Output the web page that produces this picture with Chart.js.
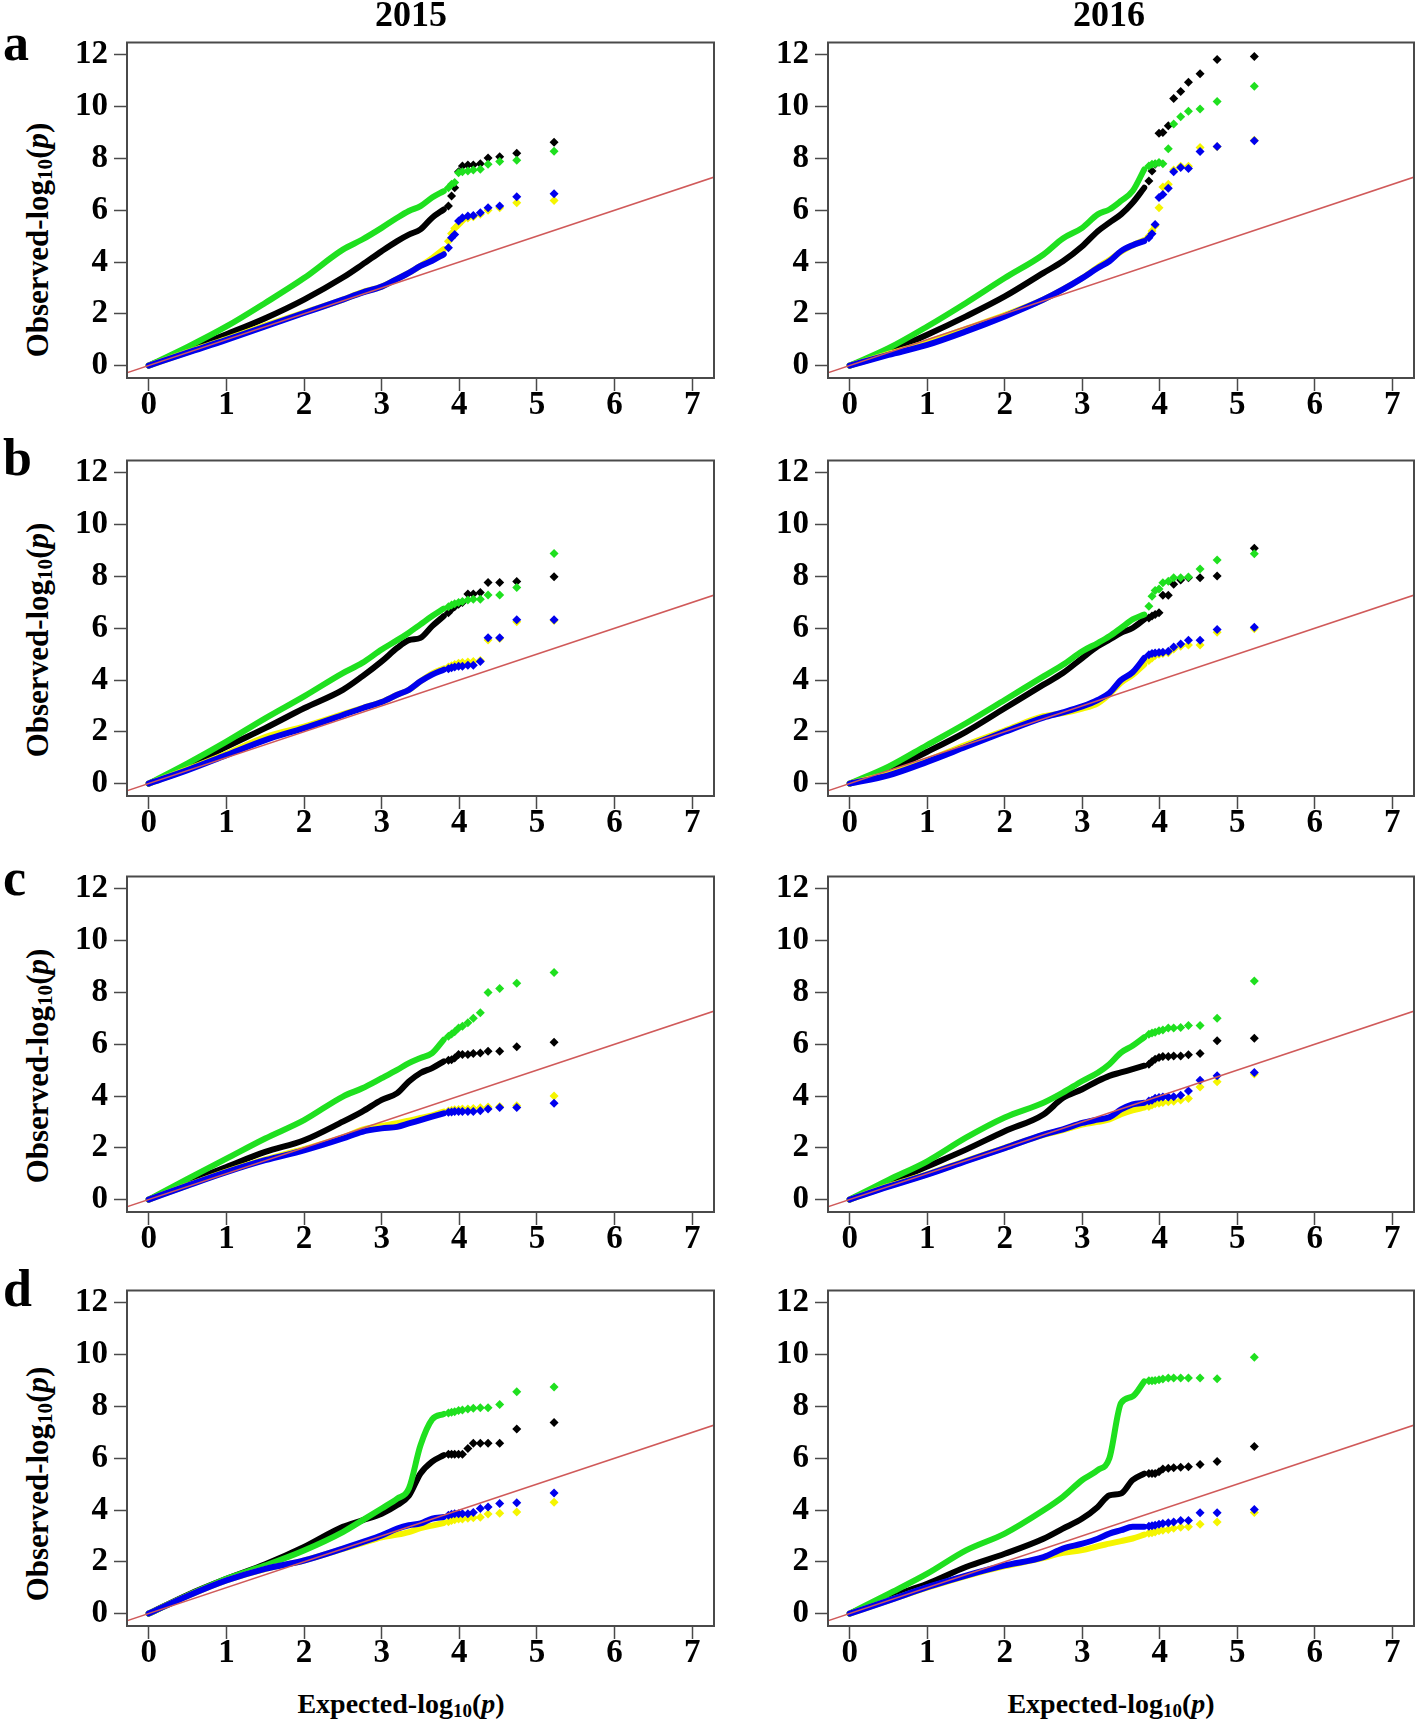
<!DOCTYPE html>
<html lang="en">
<head>
<meta charset="UTF-8">
<title>QQ plots 2015 / 2016</title>
<script src="https://cdn.jsdelivr.net/npm/chart.js"></script>
<style>
  body { margin: 0; background: #fff; }
  #page {
    position: relative; width: 1418px; height: 1722px; overflow: hidden;
    font-family: "Liberation Serif", "Times New Roman", serif; font-weight: bold; color: #000;
  }
  #page canvas, .txt { position: absolute; }
  .year { font-size: 36px; line-height: 1; transform: translateX(-50%); }
  .letter { font-size: 52px; line-height: 1; }
  .ylab { font-size: 31px; line-height: 1; white-space: nowrap; transform: translate(-50%, -50%) rotate(-90deg); }
  .xlab { font-size: 28px; line-height: 1; white-space: nowrap; transform: translateX(-50%); }
  .txt sub { font-size: 0.68em; vertical-align: -0.22em; line-height: 0; }
</style>
</head>
<body>
<div id="page"></div>

<script>
// expected -log10(p): knots of the dense part and the separate top points
const knotX = [0, 0.5, 1, 1.5, 2, 2.5, 2.75, 3, 3.2, 3.35, 3.5, 3.65, 3.8];
const tailX = [3.86, 3.90, 3.94, 3.99, 4.04, 4.11, 4.18, 4.27, 4.37, 4.52, 4.74, 5.22];
const xTicks = [0, 1, 2, 3, 4, 5, 6, 7];
const yTicks = [0, 2, 4, 6, 8, 10, 12];
const refLine = [-1, 8]; // y = x
const years = ['2015', '2016'];
const rowLetters = ['a', 'b', 'c', 'd'];

// a - 2015
const a15Green = [0, 0.72, 1.51, 2.42, 3.38, 4.48, 4.87, 5.32, 5.71, 5.97, 6.16, 6.49, 6.74];
const a15GreenTail = [6.87, 7.0, 7.07, 7.45, 7.49, 7.52, 7.55, 7.58, 7.78, 7.88, 7.93, 8.28];
const a15Black = [0, 0.61, 1.21, 1.83, 2.55, 3.4, 3.9, 4.42, 4.81, 5.06, 5.26, 5.71, 6.03];
const a15BlackTail = [6.16, 6.55, 6.87, 7.49, 7.71, 7.75, 7.75, 7.8, 8.02, 8.07, 8.2, 8.63];
const a15Yellow = [0, 0.52, 1.02, 1.55, 2.05, 2.55, 2.84, 3.05, 3.35, 3.58, 3.85, 4.15, 4.5];
const a15YellowTail = [4.8, 5.1, 5.3, 5.45, 5.6, 5.7, 5.75, 5.85, 6.0, 6.1, 6.29, 6.38];
const a15Blue = [0, 0.5, 0.99, 1.51, 2.03, 2.55, 2.82, 3.05, 3.35, 3.58, 3.85, 4.05, 4.3];
const a15BlueTail = [4.55, 4.94, 5.06, 5.58, 5.71, 5.78, 5.8, 5.9, 6.1, 6.16, 6.52, 6.64];

// a - 2016
const a16Green = [0, 0.67, 1.51, 2.42, 3.38, 4.29, 4.91, 5.32, 5.84, 6.03, 6.36, 6.74, 7.58];
const a16GreenTail = [7.71, 7.78, 7.8, 7.84, 7.8, 8.38, 9.33, 9.61, 9.82, 9.91, 10.2, 10.79];
const a16Black = [0, 0.54, 1.19, 1.9, 2.67, 3.58, 4.03, 4.61, 5.19, 5.52, 5.84, 6.29, 6.87];
const a16BlackTail = [7.13, 7.52, 7.78, 8.97, 9.0, 9.26, 10.32, 10.59, 10.94, 11.27, 11.82, 11.94];
const a16Yellow = [0, 0.45, 0.9, 1.42, 1.95, 2.55, 2.94, 3.38, 3.8, 4.08, 4.4, 4.65, 4.85];
const a16YellowTail = [5.0, 5.2, 5.4, 6.1, 6.9, 7.0, 7.55, 7.7, 7.7, 8.42, 8.45, 8.7];
const a16Blue = [0, 0.41, 0.8, 1.32, 1.9, 2.55, 2.94, 3.38, 3.77, 4.03, 4.42, 4.65, 4.81];
const a16BlueTail = [4.94, 5.09, 5.45, 6.49, 6.61, 6.85, 7.49, 7.65, 7.61, 8.27, 8.46, 8.68];

// b - 2015
const b15Green = [0, 0.78, 1.62, 2.52, 3.37, 4.27, 4.66, 5.18, 5.54, 5.83, 6.15, 6.47, 6.76];
const b15GreenTail = [6.83, 6.9, 6.95, 6.99, 7.03, 7.09, 7.12, 7.12, 7.28, 7.28, 7.57, 8.89];
const b15Black = [0, 0.65, 1.42, 2.14, 2.91, 3.62, 4.14, 4.72, 5.24, 5.54, 5.63, 6.08, 6.47];
const b15BlackTail = [6.6, 6.73, 6.83, 6.93, 6.99, 7.32, 7.32, 7.38, 7.77, 7.77, 7.81, 7.99];
const b15Yellow = [0, 0.55, 1.15, 1.8, 2.2, 2.68, 2.92, 3.15, 3.43, 3.62, 3.95, 4.25, 4.45];
const b15YellowTail = [4.5, 4.55, 4.6, 4.65, 4.68, 4.7, 4.72, 4.75, 5.55, 5.6, 6.25, 6.3];
const b15Blue = [0, 0.52, 1.1, 1.68, 2.14, 2.65, 2.91, 3.15, 3.43, 3.62, 3.95, 4.21, 4.4];
const b15BlueTail = [4.44, 4.47, 4.5, 4.53, 4.53, 4.57, 4.57, 4.72, 5.63, 5.63, 6.33, 6.33];

// b - 2016
const b16Green = [0, 0.65, 1.49, 2.33, 3.23, 4.14, 4.59, 5.11, 5.43, 5.69, 6.01, 6.34, 6.53];
const b16GreenTail = [6.85, 7.24, 7.46, 7.52, 7.76, 7.82, 7.95, 7.95, 7.98, 8.29, 8.64, 8.88];
const b16Black = [0, 0.52, 1.23, 2.0, 2.91, 3.82, 4.27, 4.85, 5.3, 5.56, 5.82, 6.01, 6.34];
const b16BlackTail = [6.4, 6.47, 6.53, 6.6, 7.27, 7.27, 7.7, 7.86, 7.95, 7.95, 8.02, 9.09];
const b16Yellow = [0, 0.38, 0.9, 1.5, 2.05, 2.6, 2.72, 2.9, 3.1, 3.45, 3.9, 4.2, 4.6];
const b16YellowTail = [4.75, 4.85, 4.95, 5.0, 5.02, 5.05, 5.2, 5.3, 5.35, 5.35, 5.85, 5.98];
const b16Blue = [0, 0.32, 0.84, 1.42, 2.0, 2.55, 2.75, 2.98, 3.23, 3.5, 4.0, 4.3, 4.85];
const b16BlueTail = [4.98, 5.02, 5.04, 5.06, 5.07, 5.11, 5.28, 5.39, 5.54, 5.54, 5.95, 6.04];

// c - 2015
const c15Green = [0, 0.8, 1.58, 2.36, 3.07, 3.98, 4.3, 4.69, 5.01, 5.27, 5.47, 5.66, 6.18];
const c15GreenTail = [6.31, 6.4, 6.48, 6.63, 6.7, 6.83, 7.0, 7.22, 8.0, 8.15, 8.36, 8.77];
const c15Black = [0, 0.67, 1.26, 1.84, 2.29, 3.01, 3.4, 3.85, 4.11, 4.56, 4.89, 5.08, 5.34];
const c15BlackTail = [5.38, 5.4, 5.47, 5.6, 5.6, 5.6, 5.64, 5.66, 5.73, 5.73, 5.9, 6.08];
const c15Yellow = [0, 0.55, 1.08, 1.55, 1.95, 2.4, 2.7, 2.85, 2.95, 3.05, 3.15, 3.25, 3.4];
const c15YellowTail = [3.42, 3.45, 3.47, 3.48, 3.5, 3.5, 3.52, 3.55, 3.58, 3.6, 3.62, 4.0];
const c15Blue = [0, 0.54, 1.06, 1.52, 1.9, 2.36, 2.62, 2.75, 2.81, 2.94, 3.07, 3.2, 3.33];
const c15BlueTail = [3.37, 3.38, 3.4, 3.4, 3.4, 3.4, 3.4, 3.43, 3.5, 3.56, 3.56, 3.72];

// c - 2016
const c16Green = [0, 0.76, 1.48, 2.39, 3.17, 3.74, 4.13, 4.58, 4.9, 5.23, 5.68, 5.94, 6.27];
const c16GreenTail = [6.39, 6.43, 6.46, 6.52, 6.55, 6.63, 6.63, 6.65, 6.72, 6.72, 7.0, 8.44];
const c16Black = [0, 0.63, 1.28, 1.93, 2.64, 3.29, 3.92, 4.26, 4.58, 4.78, 4.91, 5.04, 5.17];
const c16BlackTail = [5.23, 5.33, 5.42, 5.49, 5.53, 5.53, 5.55, 5.55, 5.59, 5.64, 6.14, 6.23];
const c16Yellow = [0, 0.52, 0.98, 1.5, 2.0, 2.5, 2.68, 2.9, 3.0, 3.1, 3.3, 3.45, 3.55];
const c16YellowTail = [3.6, 3.65, 3.7, 3.72, 3.75, 3.78, 3.8, 3.85, 3.9, 4.35, 4.55, 4.85];
const c16Blue = [0, 0.5, 0.96, 1.48, 1.99, 2.51, 2.71, 2.96, 3.09, 3.18, 3.48, 3.68, 3.74];
const c16BlueTail = [3.81, 3.84, 3.91, 3.94, 3.96, 3.96, 3.97, 4.03, 4.19, 4.61, 4.78, 4.91];

// d - 2015
const d15Green = [0, 0.7, 1.34, 1.86, 2.44, 3.15, 3.6, 4.06, 4.44, 4.83, 6.5, 7.5, 7.71];
const d15GreenTail = [7.75, 7.78, 7.8, 7.84, 7.86, 7.9, 7.93, 7.95, 7.95, 8.08, 8.57, 8.75];
const d15Black = [0, 0.72, 1.34, 1.9, 2.57, 3.35, 3.6, 3.86, 4.19, 4.55, 5.41, 5.87, 6.12];
const d15BlackTail = [6.15, 6.15, 6.15, 6.15, 6.15, 6.38, 6.58, 6.58, 6.58, 6.58, 7.13, 7.38];
const d15Yellow = [0, 0.68, 1.28, 1.72, 2.05, 2.5, 2.72, 2.95, 3.05, 3.15, 3.3, 3.4, 3.5];
const d15YellowTail = [3.55, 3.6, 3.62, 3.65, 3.65, 3.68, 3.7, 3.72, 3.85, 3.88, 3.92, 4.3];
const d15Blue = [0, 0.68, 1.28, 1.73, 2.05, 2.51, 2.76, 3.02, 3.28, 3.41, 3.48, 3.67, 3.73];
const d15BlueTail = [3.8, 3.84, 3.86, 3.86, 3.86, 3.86, 3.9, 4.06, 4.12, 4.25, 4.28, 4.66];

// d - 2016
const d16Green = [0, 0.76, 1.54, 2.44, 3.09, 3.99, 4.51, 5.16, 5.54, 6.0, 8.13, 8.39, 8.97];
const d16GreenTail = [8.99, 8.99, 9.0, 9.03, 9.06, 9.1, 9.1, 9.1, 9.1, 9.1, 9.07, 9.9];
const d16Black = [0, 0.63, 1.15, 1.8, 2.31, 2.89, 3.28, 3.67, 4.12, 4.57, 4.64, 5.16, 5.41];
const d16BlackTail = [5.41, 5.41, 5.41, 5.48, 5.58, 5.61, 5.63, 5.65, 5.67, 5.76, 5.87, 6.45];
const d16Yellow = [0, 0.5, 1.0, 1.45, 1.83, 2.15, 2.35, 2.45, 2.6, 2.7, 2.8, 2.9, 3.05];
const d16YellowTail = [3.1, 3.12, 3.15, 3.2, 3.22, 3.25, 3.3, 3.33, 3.35, 3.45, 3.54, 3.9];
const d16Blue = [0, 0.5, 1.02, 1.47, 1.86, 2.18, 2.51, 2.7, 2.89, 3.09, 3.22, 3.35, 3.35];
const d16BlueTail = [3.37, 3.39, 3.41, 3.45, 3.48, 3.51, 3.54, 3.6, 3.6, 3.89, 3.89, 4.02];

// which arrays go in which panel: [green, black, yellow, blue], each [dense, tail]
const panels = [
  [0, 0, [[a15Green, a15GreenTail], [a15Black, a15BlackTail], [a15Yellow, a15YellowTail], [a15Blue, a15BlueTail]]],
  [0, 1, [[a16Green, a16GreenTail], [a16Black, a16BlackTail], [a16Yellow, a16YellowTail], [a16Blue, a16BlueTail]]],
  [1, 0, [[b15Green, b15GreenTail], [b15Black, b15BlackTail], [b15Yellow, b15YellowTail], [b15Blue, b15BlueTail]]],
  [1, 1, [[b16Green, b16GreenTail], [b16Black, b16BlackTail], [b16Yellow, b16YellowTail], [b16Blue, b16BlueTail]]],
  [2, 0, [[c15Green, c15GreenTail], [c15Black, c15BlackTail], [c15Yellow, c15YellowTail], [c15Blue, c15BlueTail]]],
  [2, 1, [[c16Green, c16GreenTail], [c16Black, c16BlackTail], [c16Yellow, c16YellowTail], [c16Blue, c16BlueTail]]],
  [3, 0, [[d15Green, d15GreenTail], [d15Black, d15BlackTail], [d15Yellow, d15YellowTail], [d15Blue, d15BlueTail]]],
  [3, 1, [[d16Green, d16GreenTail], [d16Black, d16BlackTail], [d16Yellow, d16YellowTail], [d16Blue, d16BlueTail]]]
];

// look
const seriesColors = ['#1fe01f', '#000000', '#f5f500', '#0000ee'];
const seriesOrder = [3, 4, 2, 1];  // lower = drawn on top
const refColor = '#d05a5a';
const fontFam = "'Liberation Serif', 'Times New Roman', serif";

// layout (page pixels)
const colLeft = [127, 828];
const colWidth = [587, 586];
const rowTop = [42, 460, 876, 1290];
const boxHeight = 336;
const padL = 62, padT = 22, padR = 4, padB = 50;

const page = document.getElementById('page');

const boxPlugin = {
  id: 'box',
  afterDraw(chart) {
    const a = chart.chartArea;
    const ctx = chart.ctx;
    ctx.save();
    ctx.strokeStyle = '#4a4a4a';
    ctx.lineWidth = 2;
    ctx.strokeRect(a.left, a.top, a.right - a.left, a.bottom - a.top);
    ctx.restore();
  }
};

function tickFont() {
  return { family: fontFam, size: 33, weight: 'bold', lineHeight: 1 };
}

function makePanel(row, col, series) {
  const canvas = document.createElement('canvas');
  canvas.width = colWidth[col] + padL + padR;
  canvas.height = boxHeight + padT + padB;
  canvas.style.left = (colLeft[col] - padL) + 'px';
  canvas.style.top = (rowTop[row] - padT) + 'px';
  page.appendChild(canvas);

  const datasets = [{
    data: refLine.map(v => ({ x: v, y: v })),
    borderColor: refColor,
    borderWidth: 1.5,
    pointRadius: 0,
    clip: 0,
    order: 0
  }];

  series.forEach((s, i) => {
    const color = seriesColors[i];
    // dense part: overlapping markers read as a thick band
    datasets.push({
      data: knotX.map((x, k) => ({ x: x, y: s[0][k] })),
      borderColor: color,
      borderWidth: 6,
      borderCapStyle: 'round',
      borderJoinStyle: 'round',
      cubicInterpolationMode: 'monotone',
      pointRadius: 0,
      order: seriesOrder[i]
    });
    // sparse top points as diamonds
    datasets.push({
      data: tailX.map((x, k) => ({ x: x, y: s[1][k] })),
      showLine: false,
      pointStyle: 'rectRot',
      pointRadius: 4.5,
      pointBorderWidth: 0,
      pointBackgroundColor: color,
      borderColor: color,
      order: seriesOrder[i]
    });
  });

  new Chart(canvas, {
    type: 'line',
    data: { datasets: datasets },
    options: {
      responsive: false,
      animation: false,
      events: [],
      layout: { padding: { left: 0, top: padT, right: padR, bottom: 0 }, autoPadding: false },
      plugins: { legend: { display: false }, tooltip: { enabled: false } },
      scales: {
        x: {
          type: 'linear',
          min: -0.28,
          max: 7.28,
          afterBuildTicks: s => { s.ticks = xTicks.map(v => ({ value: v })); },
          afterFit: s => { s.height = padB; },
          border: { display: false },
          grid: { drawOnChartArea: false, tickLength: 13, tickColor: '#4a4a4a', tickWidth: 1.5 },
          ticks: { autoSkip: false, maxRotation: 0, padding: -2.5, color: '#000', font: tickFont() }
        },
        y: {
          type: 'linear',
          min: -0.48,
          max: 12.48,
          afterBuildTicks: s => { s.ticks = yTicks.map(v => ({ value: v })); },
          afterFit: s => { s.width = padL; },
          border: { display: false },
          grid: { drawOnChartArea: false, tickLength: 13, tickColor: '#4a4a4a', tickWidth: 1.5 },
          ticks: { autoSkip: false, padding: 6, color: '#000', font: tickFont() }
        }
      }
    },
    plugins: [boxPlugin]
  });
}

function addText(cls, html, left, top) {
  const el = document.createElement('div');
  el.className = 'txt ' + cls;
  el.innerHTML = html;
  el.style.left = left + 'px';
  el.style.top = top + 'px';
  page.appendChild(el);
}

panels.forEach(p => makePanel(p[0], p[1], p[2]));

// titles and labels
addText('year', years[0], 411, -4);
addText('year', years[1], 1109, -4);
const letterTops = [17, 432, 852, 1263];
rowLetters.forEach((l, i) => addText('letter', l, 3, letterTops[i]));
const ylabCenters = [240, 640, 1066, 1484];
ylabCenters.forEach(cy => addText('ylab', 'Observed-log<sub>10</sub>(<i>p</i>)', 37, cy));
addText('xlab', 'Expected-log<sub>10</sub>(<i>p</i>)', 401, 1690);
addText('xlab', 'Expected-log<sub>10</sub>(<i>p</i>)', 1111, 1690);
</script>
</body>
</html>
